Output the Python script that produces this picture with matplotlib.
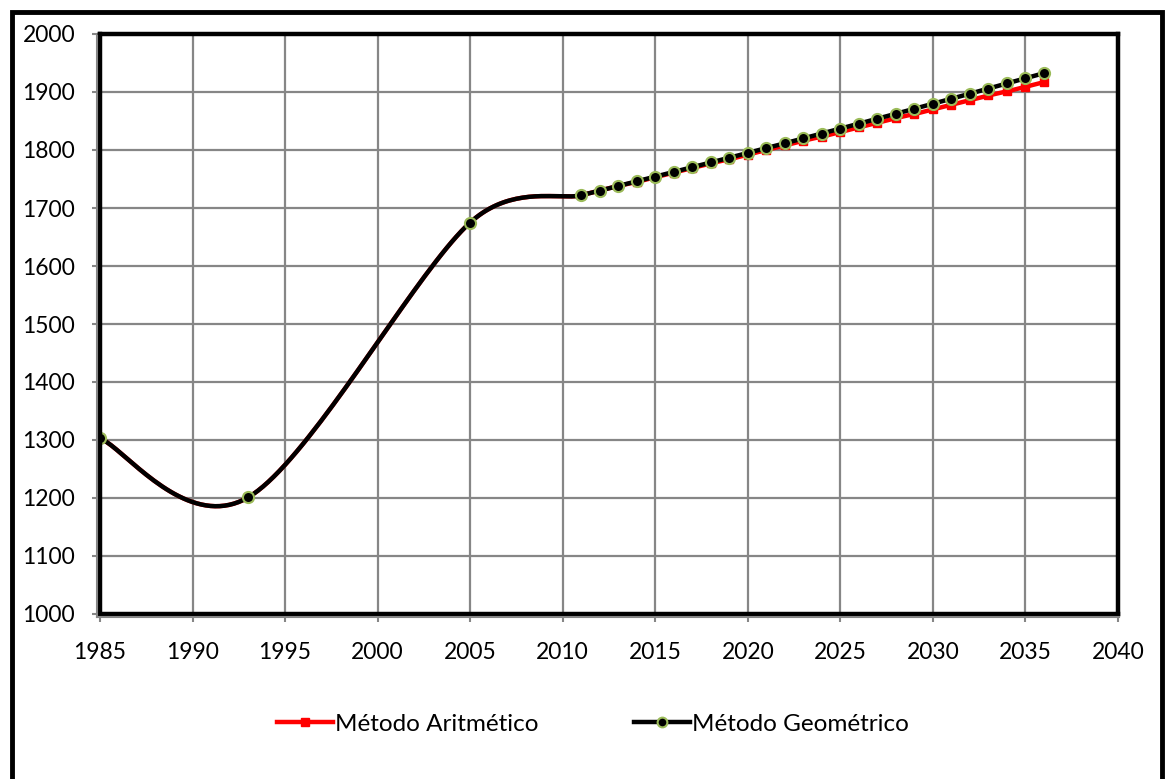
import numpy as np
import matplotlib.pyplot as plt
from matplotlib.patches import Rectangle
from matplotlib.lines import Line2D

plt.rcParams['font.family'] = ['Lato', 'DejaVu Sans']

# censos + proyección (año, población)
anios_hist = [1985, 1993, 2005, 2011]
pob_hist = [1303, 1201, 1675, 1722]

anios_proy = list(range(2012, 2037))
pob_arit = [1730, 1738, 1745, 1753, 1761, 1769, 1777, 1784, 1792, 1800,
            1808, 1816, 1823, 1831, 1839, 1847, 1855, 1862, 1870, 1878,
            1886, 1894, 1901, 1909, 1917]
pob_geom = [1730.0, 1738.0, 1746.0, 1754.1, 1762.2, 1770.3, 1778.5, 1786.7,
            1795.0, 1803.3, 1811.6, 1820.0, 1828.4, 1836.9, 1845.4, 1853.9,
            1862.5, 1871.1, 1879.7, 1888.4, 1897.1, 1905.9, 1914.8, 1923.6,
            1932.5]

# escala aproximada en pixeles por unidad (para el suavizado)
PX_X = 1018 / 55
PX_Y = 580 / 1000


def suavizar(x, y, n=40):
    # bezier como la "línea suavizada" de Excel: brazo = d02/6, máx. d12/2
    p = np.column_stack([np.array(x) * PX_X, np.array(y) * PX_Y]).astype(float)
    out = [p[0]]
    for i in range(len(p) - 1):
        p0 = p[i - 1] if i > 0 else p[i]
        p1, p2 = p[i], p[i + 1]
        p3 = p[i + 2] if i + 2 < len(p) else p[i + 1]
        d12 = np.linalg.norm(p2 - p1)
        t1 = (p2 - p0) / 6
        t2 = (p3 - p1) / 6
        if np.linalg.norm(t1) > d12 / 2:
            t1 = t1 / np.linalg.norm(t1) * d12 / 2
        if np.linalg.norm(t2) > d12 / 2:
            t2 = t2 / np.linalg.norm(t2) * d12 / 2
        c1 = p1 + t1
        c2 = p2 - t2
        t = np.linspace(0, 1, n)[1:, None]
        seg = ((1 - t) ** 3) * p1 + 3 * ((1 - t) ** 2) * t * c1 + 3 * (1 - t) * t ** 2 * c2 + t ** 3 * p2
        out.extend(seg)
    out = np.array(out)
    return out[:, 0] / PX_X, out[:, 1] / PX_Y


x_a = anios_hist + anios_proy
y_a = pob_hist + pob_arit
x_g = anios_hist + anios_proy
y_g = pob_hist + pob_geom

W, H = 1165, 779
fig = plt.figure(figsize=(W / 100, H / 100), dpi=100)
ax = fig.add_axes([100 / W, 1 - 614 / H, 1018 / W, 580 / H])

sx, sy = suavizar(x_a, y_a)
ax.plot(sx, sy, color='red', lw=3.2, zorder=3, solid_capstyle='round')
ax.plot(x_a, y_a, ls='none', marker='s', ms=6, color='red', zorder=3)

sx, sy = suavizar(x_g, y_g)
ax.plot(sx, sy, color='black', lw=3.2, zorder=4, solid_capstyle='round')
ax.plot(x_g, y_g, ls='none', marker='o', ms=8, mfc='black', mec='#9BBB59', mew=1.5, zorder=5)

ax.set_xlim(1985, 2040)
ax.set_ylim(1000, 2000)
ax.set_xticks(range(1985, 2041, 5))
ax.set_yticks(range(1000, 2001, 100))
ax.grid(True, color='#868686', lw=1.6, zorder=0)
ax.tick_params(labelsize=16.5, color='#868686', length=6, width=1.5)
ax.tick_params(axis='x', pad=14)
ax.tick_params(axis='y', pad=12)
for s in ax.spines.values():
    s.set_color('black')
    s.set_linewidth(3.2)
    s.set_zorder(6)

# líneas grises de los ejes, por fuera del borde negro
fig.add_artist(Line2D([97 / W, 97 / W], [1 - 617 / H, 1 - 36 / H], color='#868686', lw=1.5))
fig.add_artist(Line2D([97 / W, 1119 / W], [1 - 617 / H, 1 - 617 / H], color='#868686', lw=1.5))

handles = [Line2D([], [], color='red', lw=3.2, marker='s', ms=6),
           Line2D([], [], color='black', lw=3.2, marker='o', ms=7, mfc='black', mec='#9BBB59', mew=1.5)]
fig.legend(handles, ['Método Aritmético', 'Método Geométrico'], loc='center',
           bbox_to_anchor=(0.509, 1 - 724 / H), ncol=2, frameon=False, fontsize=17.5,
           handlelength=2.3, handletextpad=0.1, columnspacing=3.9)

# borde exterior del gráfico
fig.patches.append(Rectangle((11.5 / W, -0.02), (1162 - 11.5) / W, 1.02 - 11.5 / H,
                             transform=fig.transFigure, fill=False, ec='black', lw=3.5))

fig.savefig('out.png', dpi=100)
